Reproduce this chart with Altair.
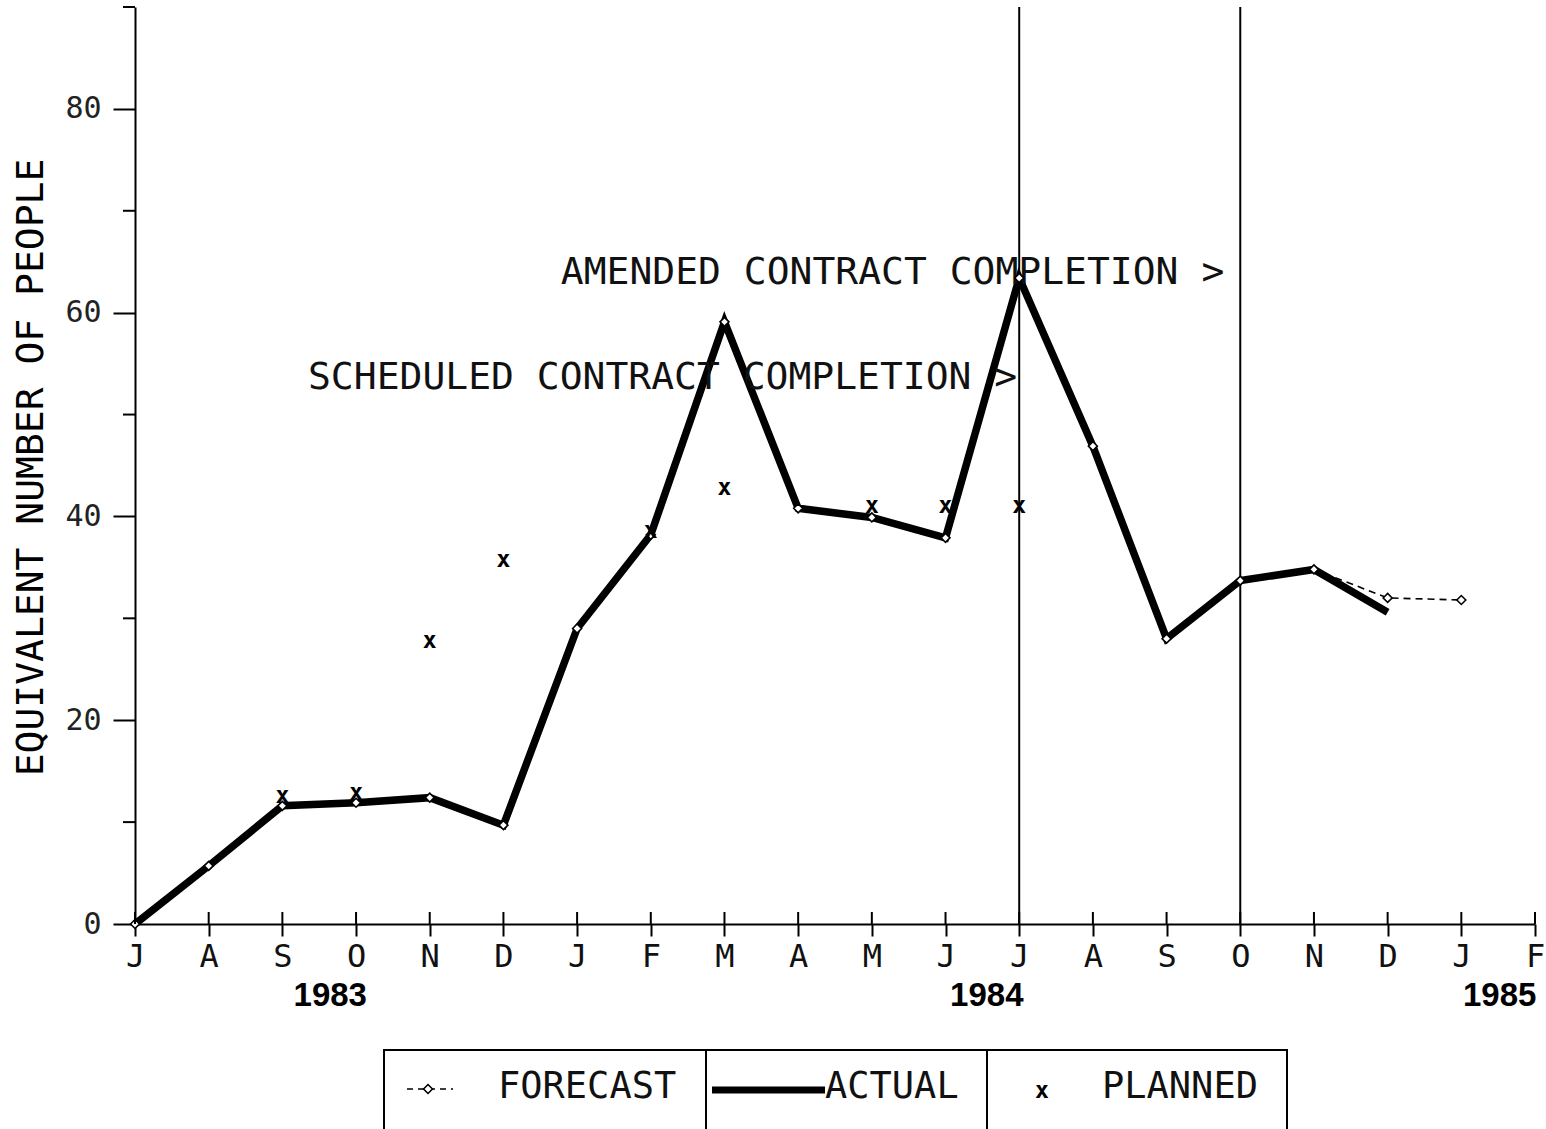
import json
import altair as alt
import pandas as pd

# ---------------- data ----------------
months = ["1983-07", "1983-08", "1983-09", "1983-10", "1983-11", "1983-12",
          "1984-01", "1984-02", "1984-03", "1984-04", "1984-05", "1984-06",
          "1984-07", "1984-08", "1984-09", "1984-10", "1984-11", "1984-12",
          "1985-01", "1985-02"]
month_letters = ["J", "A", "S", "O", "N", "D", "J", "F", "M", "A", "M", "J",
                 "J", "A", "S", "O", "N", "D", "J", "F"]

actual = [0.0, 5.7, 11.6, 11.9, 12.4, 9.7, 29.0, 38.2, 59.1, 40.8, 39.9, 37.9,
          63.4, 46.9, 28.0, 33.7, 34.8, 30.6]
forecast = [0.0, 5.7, 11.6, 11.9, 12.4, 9.7, 29.0, 38.2, 59.1, 40.8, 39.9, 37.9,
            63.4, 46.9, 28.0, 33.7, 34.8, 32.0, 31.8]

planned_months = ["1983-09", "1983-10", "1983-11", "1983-12", "1984-02",
                  "1984-03", "1984-05", "1984-06", "1984-07"]
planned = [12.6, 12.9, 27.8, 35.7, 38.6, 42.8, 41.0, 41.0, 41.0]

milestone_months = ["1984-07", "1984-10"]
milestone_labels = ["SCHEDULED CONTRACT COMPLETION >", "AMENDED CONTRACT COMPLETION >"]
milestone_label_level = [53.6, 63.9]

year_labels = ["1983", "1984", "1985"]
year_label_month_pos = [2.65, 11.56, 18.52]

minor_y_ticks = [10, 30, 50, 70, 90]
major_y_ticks = [0, 20, 40, 60, 80]

# ---------------- tables ----------------
idx_of = {m: i for i, m in enumerate(months)}
df_actual = pd.DataFrame({"idx": list(range(len(actual))), "val": actual})
df_fc = pd.DataFrame({"idx": list(range(len(forecast))), "val": forecast})
df_pl = pd.DataFrame({"idx": [idx_of[m] for m in planned_months], "val": planned})
df_ms = pd.DataFrame({"idx": [idx_of[m] for m in milestone_months],
                      "val": milestone_label_level, "label": milestone_labels})
df_years = pd.DataFrame({"idx": year_label_month_pos, "label": year_labels})
df_minor = pd.DataFrame({"val": minor_y_ticks})
df_months = pd.DataFrame({"idx": list(range(len(months)))})
one = alt.Data(values=[{"a": 1}])

W, H = 1400, 917
MONO = "DejaVu Sans Mono"

xscale = alt.Scale(domain=[0, len(months) - 1], nice=False, zero=False)
yscale = alt.Scale(domain=[0, 90], nice=False, zero=True)

xaxis = alt.Axis(values=list(range(len(months))),
                 labelExpr=json.dumps(month_letters) + "[datum.value]",
                 title=None, grid=False, labelFont=MONO, labelFontSize=32,
                 labelColor="#111", labelPadding=5, tickSize=12, tickWidth=2,
                 tickColor="black", domainColor="black", domainWidth=2,
                 labelFlush=False, labelOverlap=False)
yaxis = alt.Axis(values=major_y_ticks, title="EQUIVALENT NUMBER OF PEOPLE",
                 grid=False, labelFont=MONO, labelFontSize=30, labelColor="#222",
                 labelPadding=12, tickSize=22, tickWidth=2, tickColor="black",
                 domainColor="black", domainWidth=2,
                 titleFont=MONO, titleFontSize=38, titleFontWeight="normal",
                 titleColor="black", titleAngle=270, titleX=-104, titleY=460,
                 titleAlign="center", titleBaseline="middle")

X = alt.X("idx:Q", scale=xscale, axis=xaxis)
Y = alt.Y("val:Q", scale=yscale, axis=yaxis)

# ---------------- layers ----------------
vlines = alt.Chart(df_ms).mark_rule(color="black", strokeWidth=2).encode(
    x=X, y=alt.value(0), y2=alt.value(H))

sched_text = alt.Chart(df_ms).transform_filter(alt.datum.idx == idx_of["1984-07"]).mark_text(
    align="right", baseline="middle", font=MONO, fontSize=38, dx=-2, color="#111"
).encode(x=X, y=Y, text="label:N")
amend_text = alt.Chart(df_ms).transform_filter(alt.datum.idx == idx_of["1984-10"]).mark_text(
    align="right", baseline="middle", font=MONO, fontSize=38, dx=-16, color="#111"
).encode(x=X, y=Y, text="label:N")

fc_line = alt.Chart(df_fc).mark_line(color="black", strokeWidth=1.6,
                                     strokeDash=[7, 5]).encode(x=X, y=Y)
act_line = alt.Chart(df_actual).mark_line(color="black", strokeWidth=7.5).encode(x=X, y=Y)
fc_pts = alt.Chart(df_fc).mark_point(shape="diamond", fill="white", filled=False,
                                     fillOpacity=1, stroke="black", strokeWidth=1.6,
                                     size=80, opacity=1).encode(x=X, y=Y)
pl_pts = alt.Chart(df_pl).mark_text(text="x", font=MONO, fontWeight="bold",
                                    fontSize=23, baseline="middle", color="black"
                                    ).encode(x=X, y=Y)

minor_ticks = alt.Chart(df_minor).mark_rule(color="black", strokeWidth=2).encode(
    y=Y, x=alt.value(-12), x2=alt.value(0))
inner_ticks = alt.Chart(df_months).mark_rule(color="black", strokeWidth=2).encode(
    x=X, y=alt.value(H - 12), y2=alt.value(H))

years = alt.Chart(df_years).mark_text(font="Liberation Sans", fontWeight="bold",
                                      fontSize=33, baseline="middle", color="black"
                                      ).encode(x=X, y=alt.value(H + 72), text="label:N")

# ---------------- legend (decoration) ----------------
LY = 1080
leg_box = alt.Chart(one).mark_rect(fill=None, stroke="black", strokeWidth=2).encode(
    x=alt.value(249), x2=alt.value(1152), y=alt.value(1043), y2=alt.value(1140))
leg_div1 = alt.Chart(one).mark_rule(color="black", strokeWidth=2).encode(
    x=alt.value(571), y=alt.value(1043), y2=alt.value(1140))
leg_div2 = alt.Chart(one).mark_rule(color="black", strokeWidth=2).encode(
    x=alt.value(852), y=alt.value(1043), y2=alt.value(1140))
leg_fc_line = alt.Chart(one).mark_rule(color="black", strokeWidth=1.6,
                                       strokeDash=[6, 5]).encode(
    x=alt.value(272), x2=alt.value(318), y=alt.value(LY + 2))
leg_fc_pt = alt.Chart(one).mark_point(shape="diamond", fill="white", filled=False,
                                      fillOpacity=1, stroke="black", strokeWidth=1.6,
                                      size=80, opacity=1).encode(
    x=alt.value(293), y=alt.value(LY + 2))
leg_fc_txt = alt.Chart(one).mark_text(text="FORECAST", align="left", baseline="middle",
                                      font=MONO, fontSize=37, color="#111").encode(
    x=alt.value(363), y=alt.value(LY))
leg_act_line = alt.Chart(one).mark_rule(color="black", strokeWidth=7).encode(
    x=alt.value(577), x2=alt.value(690), y=alt.value(LY + 3))
leg_act_txt = alt.Chart(one).mark_text(text="ACTUAL", align="left", baseline="middle",
                                       font=MONO, fontSize=37, color="#111").encode(
    x=alt.value(690), y=alt.value(LY))
leg_pl_pt = alt.Chart(one).mark_text(text="x", font=MONO, fontWeight="bold",
                                     fontSize=23, baseline="middle", color="black").encode(
    x=alt.value(907), y=alt.value(LY + 4))
leg_pl_txt = alt.Chart(one).mark_text(text="PLANNED", align="left", baseline="middle",
                                      font=MONO, fontSize=37, color="#111").encode(
    x=alt.value(967), y=alt.value(LY))

chart = alt.layer(
    act_line, vlines, sched_text, amend_text, fc_line, fc_pts, pl_pts,
    minor_ticks, inner_ticks, years,
    leg_box, leg_div1, leg_div2, leg_fc_line, leg_fc_pt, leg_fc_txt,
    leg_act_line, leg_act_txt, leg_pl_pt, leg_pl_txt,
).properties(
    width=W, height=H,
    autosize=alt.AutoSizeParams(type="none"),
    padding={"left": 135, "top": 7, "right": 11, "bottom": 205},
    background="white",
).configure_view(stroke=None)

chart.save("out.html", embed_options={"renderer": "svg", "actions": False})
